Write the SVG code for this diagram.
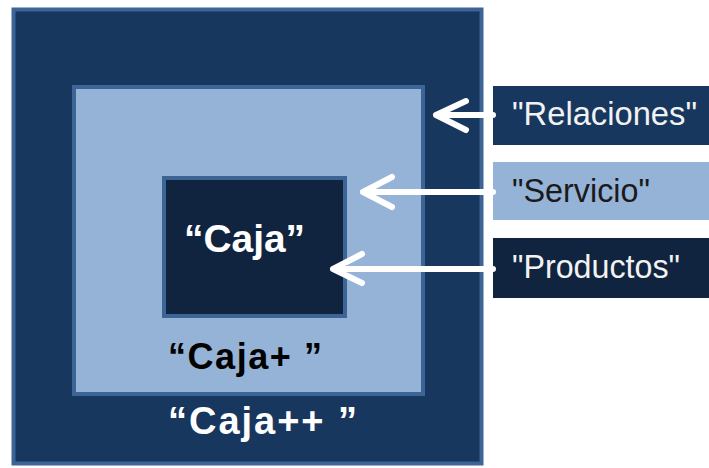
<svg xmlns="http://www.w3.org/2000/svg" width="709" height="468" viewBox="0 0 709 468">
  <style>
    .box { stroke: #3c6494; stroke-width: 4; }
    .dark { fill: #17375e; }
    .light { fill: #95b3d7; }
    .deep { fill: #10243f; }
    .title { font-family: "Liberation Sans", Arial, sans-serif; font-weight: bold; }
    .tag { font-family: "Liberation Sans", Arial, sans-serif; font-size: 34px; }
    .arrow { fill: none; stroke: #ffffff; stroke-width: 6; stroke-linecap: round; stroke-linejoin: round; }
  </style>
  <rect width="709" height="468" fill="#ffffff"/>

  <g id="caja-plus-plus">
    <rect class="box dark" x="13.5" y="9.5" width="468" height="454" stroke-width="5"/>
    <text class="title" x="168" y="434" font-size="38" fill="#ffffff" textLength="189" lengthAdjust="spacing">“Caja++ ”</text>
  </g>

  <g id="caja-plus">
    <rect class="box light" x="74" y="87" width="349" height="307"/>
    <text class="title" x="168" y="369" font-size="36" fill="#000000" textLength="154" lengthAdjust="spacing">“Caja+ ”</text>
  </g>

  <g id="caja">
    <rect class="box deep" x="164" y="178" width="181" height="138"/>
    <text class="title" x="184" y="252" font-size="38" fill="#ffffff" textLength="121" lengthAdjust="spacingAndGlyphs">“Caja”</text>
  </g>

  <g id="relaciones">
    <rect class="dark" x="493" y="86" width="216" height="59"/>
    <text class="tag" x="512" y="125" fill="#f2f2f2" textLength="185" lengthAdjust="spacingAndGlyphs">"Relaciones"</text>
  </g>

  <g id="servicio">
    <rect class="light" x="493" y="162" width="216" height="58"/>
    <text class="tag" x="512" y="202" fill="#1a1a1a" textLength="138" lengthAdjust="spacingAndGlyphs">"Servicio"</text>
  </g>

  <g id="productos">
    <rect class="deep" x="493" y="238" width="216" height="60"/>
    <text class="tag" x="512" y="278" fill="#f2f2f2" textLength="168" lengthAdjust="spacingAndGlyphs">"Productos"</text>
  </g>

  <g id="connectors">
    <path class="arrow" d="M493,115 H436 M466,101 L436,115 L466,130"/>
    <path class="arrow" d="M493,192 H363 M392,177 L363,192 L392,207"/>
    <path class="arrow" d="M493,269 H333 M362,254 L333,269 L362,283"/>
  </g>
</svg>
